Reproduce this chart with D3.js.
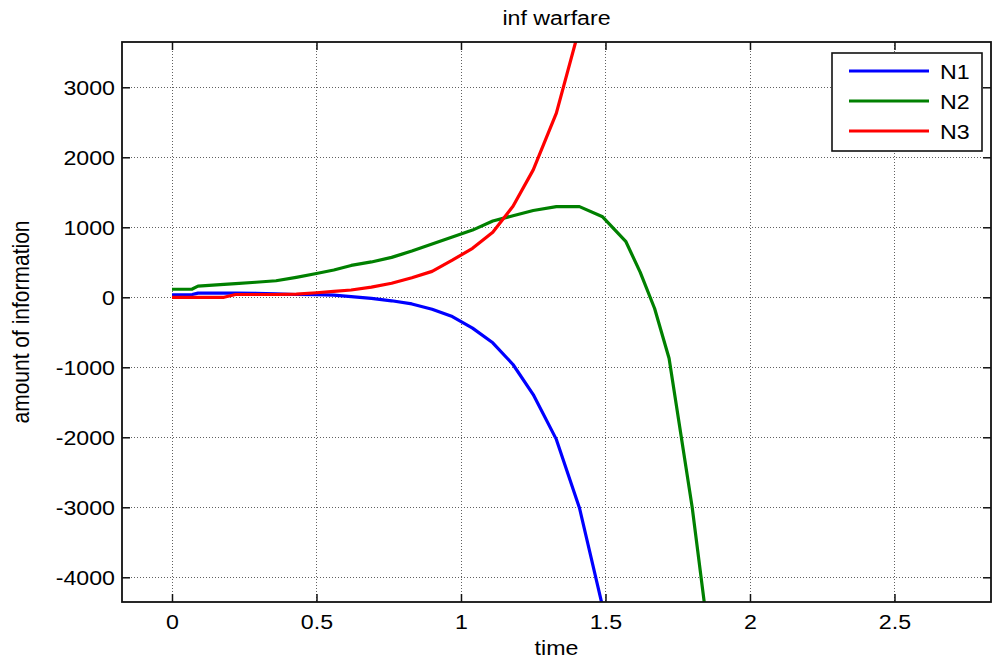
<!DOCTYPE html>
<html>
<head>
<meta charset="utf-8">
<script src="https://cdn.jsdelivr.net/npm/d3@7/dist/d3.min.js"></script>
<style>
  html, body { margin: 0; padding: 0; background: #fff; }
  svg text { font-family: "Liberation Sans", Arial, sans-serif; fill: #000; }
</style>
</head>
<body>
<svg id="chart" width="992" height="659"></svg>
<script>
// Simulation output sampled on a common time grid
const time = [0, 0.07, 0.09, 0.18, 0.22, 0.29, 0.36, 0.43, 0.50, 0.56, 0.62, 0.69, 0.76, 0.83, 0.90, 0.97, 1.04, 1.11, 1.18, 1.25, 1.33, 1.41, 1.49, 1.57, 1.62, 1.67, 1.72, 1.80, 1.88];
const n1 = [35, 40, 60, 60, 60, 58, 50, 40, 38, 30, 10, -15, -50, -95, -170, -275, -440, -650, -960, -1390, -2030, -3010, -4420, -6800];
const n2 = [115, 118, 160, 185, 196, 215, 236, 285, 340, 390, 455, 505, 570, 660, 760, 860, 960, 1090, 1165, 1240, 1295, 1295, 1150, 800, 360, -160, -870, -3000, -5600];
const n3 = [0, 0, 0, 0, 40, 40, 40, 45, 65, 85, 104, 145, 200, 280, 370, 530, 700, 930, 1300, 1820, 2630, 3850, 6000];

const seriesNames = ["N1", "N2", "N3"];
const seriesColors = ["#0000ff", "#008000", "#ff0000"];
const seriesValues = [n1, n2, n3];

const xTicks = [0, 0.5, 1, 1.5, 2, 2.5];
const xTickLabels = ["0", "0.5", "1", "1.5", "2", "2.5"];
const yTicks = [-4000, -3000, -2000, -1000, 0, 1000, 2000, 3000];
const yTickLabels = ["-4000", "-3000", "-2000", "-1000", "0", "1000", "2000", "3000"];

const titleText = "inf warfare";
const xLabelText = "time";
const yLabelText = "amount of information";

// Layout
const W = 992, H = 659;
const L = 122, R = 991, T = 42, B = 602;
const SX = 1.16; // horizontal text stretch
const FS = 20;

const svg = d3.select("#chart");

const x = d3.scaleLinear().domain([-0.173, 2.834]).range([L, R]);
const y = d3.scaleLinear().domain([-4353, 3647]).range([B, T]);

// Grid lines (dotted)
const grid = svg.append("g").attr("stroke", "#3a3a3a").attr("stroke-width", 1)
  .attr("stroke-dasharray", "1,2").attr("opacity", 0.8);
grid.selectAll("line.gx").data(xTicks).join("line")
  .attr("x1", d => Math.round(x(d)) + 0.5).attr("x2", d => Math.round(x(d)) + 0.5)
  .attr("y1", T).attr("y2", B);
grid.selectAll("line.gy").data(yTicks).join("line")
  .attr("y1", d => Math.round(y(d)) + 0.5).attr("y2", d => Math.round(y(d)) + 0.5)
  .attr("x1", L).attr("x2", R);

// Series lines, clipped to the axes
svg.append("clipPath").attr("id", "plotClip")
  .append("rect").attr("x", L).attr("y", T).attr("width", R - L).attr("height", B - T);

const line = d3.line().x(d => x(d[0])).y(d => y(d[1]));
const lines = svg.append("g").attr("clip-path", "url(#plotClip)");
seriesValues.forEach((vals, i) => {
  const pts = vals.map((v, k) => [time[k], v]);
  lines.append("path").datum(pts)
    .attr("d", line)
    .attr("fill", "none")
    .attr("stroke", seriesColors[i])
    .attr("stroke-width", 3.2)
    .attr("stroke-linejoin", "round");
});

// Axes with inward ticks
const tickLen = 8;
const xAxis = d3.axisBottom(x).tickValues(xTicks).tickSize(-tickLen).tickPadding(0)
  .tickFormat((d, i) => xTickLabels[i]);
const yAxis = d3.axisLeft(y).tickValues(yTicks).tickSize(-tickLen).tickPadding(0)
  .tickFormat((d, i) => yTickLabels[i]);

const gx = svg.append("g").attr("transform", `translate(0,${B})`).call(xAxis);
const gy = svg.append("g").attr("transform", `translate(${L},0)`).call(yAxis);
const gxTop = svg.append("g").attr("transform", `translate(0,${T})`)
  .call(d3.axisTop(x).tickValues(xTicks).tickSize(-tickLen).tickFormat(""));
const gyRight = svg.append("g").attr("transform", `translate(${R},0)`)
  .call(d3.axisRight(y).tickValues(yTicks).tickSize(-tickLen).tickFormat(""));

[gx, gy, gxTop, gyRight].forEach(g => {
  g.select(".domain").remove();
  g.selectAll(".tick line").attr("stroke", "#111").attr("stroke-width", 1.5);
});

gx.selectAll(".tick text")
  .attr("x", null).attr("y", null).attr("dy", null)
  .attr("font-size", FS)
  .attr("text-anchor", "middle")
  .attr("transform", `translate(0,27) scale(${SX},1)`);
gy.selectAll(".tick text")
  .attr("x", null).attr("y", null).attr("dy", null)
  .attr("font-size", FS)
  .attr("text-anchor", "end")
  .attr("transform", `translate(-7,7) scale(${SX},1)`);

// Box
svg.append("rect").attr("x", L).attr("y", T).attr("width", R - L).attr("height", B - T)
  .attr("fill", "none").attr("stroke", "#111").attr("stroke-width", 1.8);

// Title and axis labels
svg.append("text").text(titleText)
  .attr("font-size", FS).attr("text-anchor", "middle")
  .attr("transform", `translate(${(L + R) / 2},25) scale(${SX},1)`);
svg.append("text").text(xLabelText)
  .attr("font-size", FS).attr("text-anchor", "middle")
  .attr("transform", `translate(${(L + R) / 2},655) scale(${SX},1)`);
svg.append("text").text(yLabelText)
  .attr("font-size", 21).attr("text-anchor", "middle")
  .attr("transform", `translate(29,${(T + B) / 2}) scale(${SX},1) rotate(-90)`);

// Legend
const legX = 832, legY = 53, legW = 150, legH = 98;
const leg = svg.append("g");
leg.append("rect").attr("x", legX).attr("y", legY).attr("width", legW).attr("height", legH)
  .attr("fill", "#fff").attr("stroke", "#111").attr("stroke-width", 1.6);
seriesNames.forEach((name, i) => {
  const ly = 71 + i * 30;
  leg.append("line").attr("x1", 849).attr("x2", 929).attr("y1", ly).attr("y2", ly)
    .attr("stroke", seriesColors[i]).attr("stroke-width", 3.2);
  leg.append("text").text(name).attr("font-size", FS)
    .attr("transform", `translate(940,${ly + 8}) scale(${SX},1)`);
});
</script>
</body>
</html>
